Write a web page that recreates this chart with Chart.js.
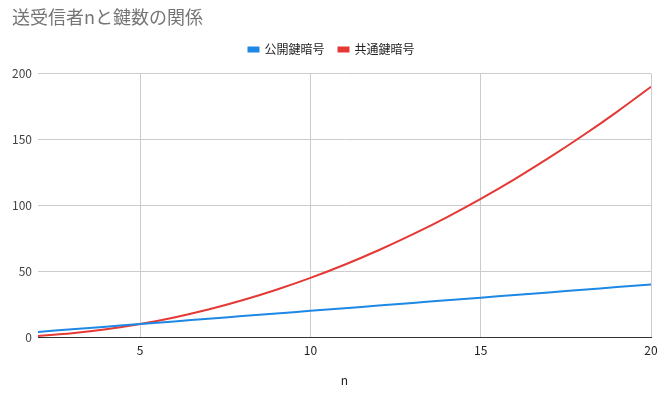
<!DOCTYPE html>
<html>
<head>
<meta charset="utf-8">
<script src="https://cdn.jsdelivr.net/npm/chart.js@4"></script>
<style>
  html, body { margin: 0; padding: 0; background: #fff; }
  #wrap { width: 664px; height: 396px; }
</style>
</head>
<body>
<div id="wrap"><canvas id="keyChart"></canvas></div>
<script>
const senders = [2, 3, 4, 5, 6, 7, 8, 9, 10, 11, 12, 13, 14, 15, 16, 17, 18, 19, 20];
const publicKeys = [4, 6, 8, 10, 12, 14, 16, 18, 20, 22, 24, 26, 28, 30, 32, 34, 36, 38, 40];
const commonKeys = [1, 3, 6, 10, 15, 21, 28, 36, 45, 55, 66, 78, 91, 105, 120, 136, 153, 171, 190];
const xTicks = [5, 10, 15, 20];
const yTicks = [0, 50, 100, 150, 200];

const font = "'Noto Sans CJK JP', Roboto, Arial, sans-serif";

const toPoints = values =>
  senders.map((n, i) => ({ x: n, y: values[i] }));

// extra room under the legend
const legendMargin = {
  id: "legendMargin",
  beforeInit(chart) {
    const fit = chart.legend.fit;
    chart.legend.fit = function () {
      fit.bind(chart.legend)();
      this.height += 8;
    };
  }
};

new Chart(document.getElementById("keyChart"), {
  type: "line",
  data: {
    datasets: [
      {
        label: "公開鍵暗号",
        data: toPoints(publicKeys),
        borderColor: "#1e88e5",
        backgroundColor: "#1e88e5",
        borderWidth: 2,
        pointRadius: 0,
        tension: 0.4
      },
      {
        label: "共通鍵暗号",
        data: toPoints(commonKeys),
        borderColor: "#e53935",
        backgroundColor: "#e53935",
        borderWidth: 2,
        pointRadius: 0,
        tension: 0.4
      }
    ]
  },
  plugins: [legendMargin],
  options: {
    responsive: true,
    maintainAspectRatio: false,
    animation: false,
    layout: {
      padding: { left: 12, right: 13, top: 4, bottom: 8 }
    },
    plugins: {
      title: {
        display: true,
        text: "送受信者nと鍵数の関係",
        align: "start",
        color: "#757575",
        font: { family: font, size: 18, weight: "normal" },
        padding: { top: 2, bottom: 2 }
      },
      legend: {
        position: "top",
        labels: {
          boxWidth: 10,
          boxHeight: 4,
          color: "#222",
          font: { family: font, size: 12 },
          padding: 14
        }
      },
      tooltip: { enabled: false }
    },
    scales: {
      x: {
        type: "linear",
        min: 2,
        max: 20,
        afterBuildTicks: scale => {
          scale.ticks = xTicks.map(v => ({ value: v }));
        },
        ticks: {
          color: "#222",
          font: { family: font, size: 12 },
          padding: 6
        },
        grid: {
          color: "#cccccc",
          drawTicks: false
        },
        border: { display: true, color: "#333", width: 1 },
        title: {
          display: true,
          text: "n",
          color: "#222",
          font: { family: font, size: 12 },
          padding: { top: 10, bottom: 0 }
        }
      },
      y: {
        min: 0,
        max: 200,
        afterBuildTicks: scale => {
          scale.ticks = yTicks.map(v => ({ value: v }));
        },
        afterFit: scale => {
          scale.width = 26;
        },
        ticks: {
          color: "#444",
          font: { family: font, size: 12 },
          padding: 6
        },
        grid: {
          color: "#cccccc",
          drawTicks: false
        },
        border: { display: false }
      }
    }
  }
});
</script>
</body>
</html>
